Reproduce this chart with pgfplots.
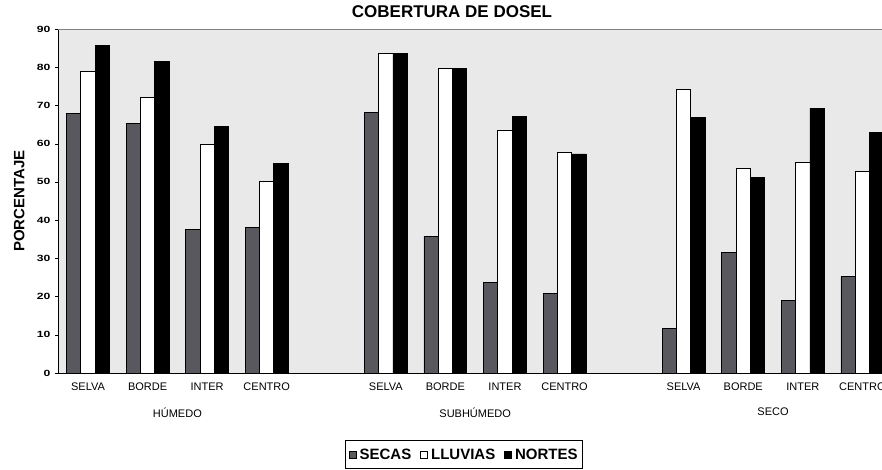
\documentclass[border=0pt]{standalone}
\usepackage{pgfplots}
\pgfplotsset{compat=1.18}
\usepackage{pgfplotstable}
\usepackage{fontspec}
\setmainfont{Liberation Sans}
\newfontfamily\tickfont[FakeStretch=1.35]{Liberation Sans}
\definecolor{secas}{RGB}{88,88,94}
\definecolor{bgg}{RGB}{233,233,233}
\pgfplotstableread{
x secas lluvias nortes
0 68.0 79.0 85.6
1 65.4 72.1 81.4
2 37.6 59.9 64.4
3 38.0 50.2 54.9
5 68.2 83.6 83.6
6 35.8 79.7 79.7
7 23.6 63.6 67.1
8 20.7 57.7 57.3
10 11.7 74.2 66.8
11 31.6 53.6 51.1
12 18.9 55.1 69.3
13 25.2 52.7 63.0
}\datatable
\begin{document}
\begin{tikzpicture}
\useasboundingbox (0,0) rectangle (882pt,469pt);
\begin{axis}[
  at={(58pt,96pt)}, anchor=south west,
  scale only axis, width=824pt, height=344pt,
  xmin=-0.504, xmax=13.33, ymin=0, ymax=90,
  axis x line*=bottom, axis y line*=left,
  axis line style={black, line width=0.8pt, -},
  axis background/.style={fill=bgg},
  ytick={0,10,...,90},
  tick align=outside, major tick length=3pt,
  ytick style={black},
  /pgf/number format/assume math mode=true,
  yticklabel style={font=\fontsize{9}{10}\tickfont\bfseries, xshift=-1pt},
  xtick={0,1,2,3,5,6,7,8,10,11,12,13},
  xticklabels={SELVA,BORDE,INTER,CENTRO,SELVA,BORDE,INTER,CENTRO,SELVA,BORDE,INTER,CENTRO},
  xtick style={draw=none},
  xticklabel style={font=\fontsize{11}{12}\selectfont, yshift=-3pt},
  extra x ticks={1.5,6.5,11.5},
  extra x tick labels={HÚMEDO,SUBHÚMEDO,SECO},
  extra x tick style={xtick style={draw=none}, xticklabel style={font=\fontsize{11}{12}\selectfont, yshift=-25pt}},
  title={COBERTURA DE DOSEL},
  title style={font=\fontsize{17}{18}\selectfont\bfseries, at={(axis description cs:0.5,1)}, anchor=base, yshift=6pt, xshift=-18pt},
  ylabel={PORCENTAJE},
  ylabel style={font=\fontsize{15}{16}\selectfont\bfseries, at={(axis description cs:-0.047,0.5)}, anchor=center},
  legend columns=3,
  legend style={at={(axis description cs:0.493,-0.195)}, anchor=north, draw=black, line width=1.2pt,
    font=\fontsize{15}{16}\selectfont\bfseries, inner xsep=3pt, inner ysep=6pt,
    /tikz/every odd column/.append style={column sep=1pt},
    /tikz/every even column/.append style={column sep=7pt}},
  legend image code/.code={\draw[#1, line width=0.8pt] (0pt,-3.5pt) rectangle (7pt,3.5pt);},
  bar width=0.24,
]
\addplot[ybar, bar shift=-0.24, fill=secas, draw=black, line width=0.8pt] table[x=x,y=secas]{\datatable};
\addplot[ybar, bar shift=0, fill=white, draw=black, line width=0.8pt] table[x=x,y=lluvias]{\datatable};
\addplot[ybar, bar shift=0.24, fill=black, draw=black, line width=0.8pt] table[x=x,y=nortes]{\datatable};
\legend{SECAS,LLUVIAS,NORTES}
\draw[gray, line width=1pt] (rel axis cs:0,1) -- (rel axis cs:1,1);
\end{axis}
\end{tikzpicture}
\end{document}
